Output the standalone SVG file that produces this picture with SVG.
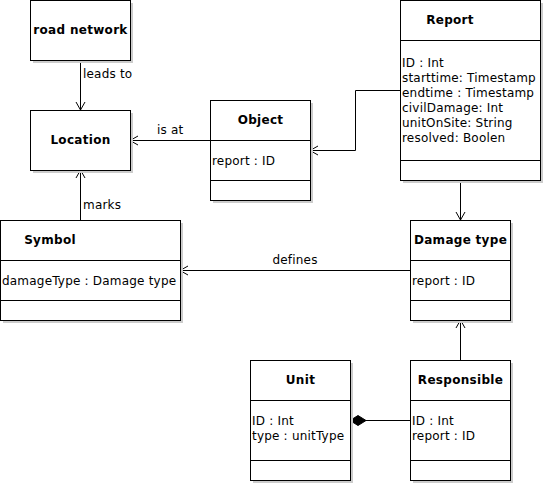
<svg xmlns="http://www.w3.org/2000/svg" width="545" height="485" viewBox="0 0 545 485">
<style>
.sh{fill:#cccccc}
.box{fill:#ffffff;stroke:#000000;stroke-width:1}
.sep{stroke:#000000;stroke-width:1}
.t{font-family:"DejaVu Sans",sans-serif;font-size:12px;font-weight:bold;fill:#000;letter-spacing:0.3px}
.a{font-family:"DejaVu Sans",sans-serif;font-size:12px;fill:#000;letter-spacing:0.2px}
.c{fill:none;stroke:#000;stroke-width:1}
</style>
<defs>
<marker id="arr" markerUnits="userSpaceOnUse" markerWidth="12" markerHeight="12" viewBox="-10 -6 12 12" refX="0" refY="0" orient="auto">
<path d="M-8,-4.5 L0,0 L-8,4.5" fill="none" stroke="#000" stroke-width="1"/>
</marker>
<marker id="dia" markerUnits="userSpaceOnUse" markerWidth="20" markerHeight="12" viewBox="-18 -6 20 12" refX="0" refY="0" orient="auto">
<path d="M0,0 L-8,-5 L-16,0 L-8,5 Z" fill="#000" stroke="#000" stroke-width="1"/>
</marker>
</defs>
<g id="connectors">
<line class="c" x1="80.5" y1="60" x2="80.5" y2="110" marker-end="url(#arr)"/>
<text class="a" x="83" y="78">leads to</text>
<line class="c" x1="210" y1="140.5" x2="130" y2="140.5" marker-end="url(#arr)"/>
<text class="a" x="157" y="134">is at</text>
<polyline class="c" points="400,90.5 355.5,90.5 355.5,150.5 310,150.5" marker-end="url(#arr)"/>
<line class="c" x1="80.5" y1="220" x2="80.5" y2="170" marker-end="url(#arr)"/>
<text class="a" x="83" y="209">marks</text>
<line class="c" x1="460.5" y1="180" x2="460.5" y2="220" marker-end="url(#arr)"/>
<line class="c" x1="410" y1="270.5" x2="180" y2="270.5" marker-end="url(#arr)"/>
<text class="a" x="295" y="264" text-anchor="middle">defines</text>
<line class="c" x1="460.5" y1="360" x2="460.5" y2="320" marker-end="url(#arr)"/>
<line class="c" x1="410" y1="420.5" x2="350" y2="420.5" marker-end="url(#dia)"/>
</g>
<g id="road_network">
<rect class="sh" x="33" y="3" width="100" height="60"/>
<rect class="box" x="30.5" y="0.5" width="100" height="60"/>
<text class="t" x="80.5" y="34" text-anchor="middle">road network</text>
</g>
<g id="location">
<rect class="sh" x="33" y="113" width="100" height="60"/>
<rect class="box" x="30.5" y="110.5" width="100" height="60"/>
<text class="t" x="80.5" y="144" text-anchor="middle">Location</text>
</g>
<g id="object">
<rect class="sh" x="213" y="103" width="100" height="100"/>
<rect class="box" x="210.5" y="100.5" width="100" height="100"/>
<line class="sep" x1="210.5" y1="140.5" x2="310.5" y2="140.5"/>
<line class="sep" x1="210.5" y1="180.5" x2="310.5" y2="180.5"/>
<text class="t" x="260.5" y="124" text-anchor="middle">Object</text>
<text class="a" x="212" y="164.5">report : ID</text>
</g>
<g id="report">
<rect class="sh" x="403" y="3" width="140" height="180"/>
<rect class="box" x="400.5" y="0.5" width="140" height="180"/>
<line class="sep" x1="400.5" y1="40.5" x2="540.5" y2="40.5"/>
<line class="sep" x1="400.5" y1="160.5" x2="540.5" y2="160.5"/>
<text class="t" x="450" y="24" text-anchor="middle">Report</text>
<text class="a" x="402" y="66.5">ID : Int</text>
<text class="a" x="402" y="81.5">starttime: Timestamp</text>
<text class="a" x="402" y="96.5">endtime : Timestamp</text>
<text class="a" x="402" y="111.5">civilDamage: Int</text>
<text class="a" x="402" y="126.5">unitOnSite: String</text>
<text class="a" x="402" y="141.5">resolved: Boolen</text>
</g>
<g id="symbol">
<rect class="sh" x="3" y="223" width="180" height="100"/>
<rect class="box" x="0.5" y="220.5" width="180" height="100"/>
<line class="sep" x1="0.5" y1="260.5" x2="180.5" y2="260.5"/>
<line class="sep" x1="0.5" y1="300.5" x2="180.5" y2="300.5"/>
<text class="t" x="50" y="244" text-anchor="middle">Symbol</text>
<text class="a" x="2" y="284.5">damageType : Damage type</text>
</g>
<g id="damage_type">
<rect class="sh" x="413" y="223" width="100" height="100"/>
<rect class="box" x="410.5" y="220.5" width="100" height="100"/>
<line class="sep" x1="410.5" y1="260.5" x2="510.5" y2="260.5"/>
<line class="sep" x1="410.5" y1="300.5" x2="510.5" y2="300.5"/>
<text class="t" x="460.5" y="244" text-anchor="middle">Damage type</text>
<text class="a" x="412" y="284.5">report : ID</text>
</g>
<g id="unit">
<rect class="sh" x="253" y="363" width="100" height="120"/>
<rect class="box" x="250.5" y="360.5" width="100" height="120"/>
<line class="sep" x1="250.5" y1="400.5" x2="350.5" y2="400.5"/>
<line class="sep" x1="250.5" y1="460.5" x2="350.5" y2="460.5"/>
<text class="t" x="300.5" y="384" text-anchor="middle">Unit</text>
<text class="a" x="252" y="424.5">ID : Int</text>
<text class="a" x="252" y="439.5">type : unitType</text>
</g>
<g id="responsible">
<rect class="sh" x="413" y="363" width="100" height="120"/>
<rect class="box" x="410.5" y="360.5" width="100" height="120"/>
<line class="sep" x1="410.5" y1="400.5" x2="510.5" y2="400.5"/>
<line class="sep" x1="410.5" y1="460.5" x2="510.5" y2="460.5"/>
<text class="t" x="460.5" y="384" text-anchor="middle">Responsible</text>
<text class="a" x="412" y="424.5">ID : Int</text>
<text class="a" x="412" y="439.5">report : ID</text>
</g>
</svg>
